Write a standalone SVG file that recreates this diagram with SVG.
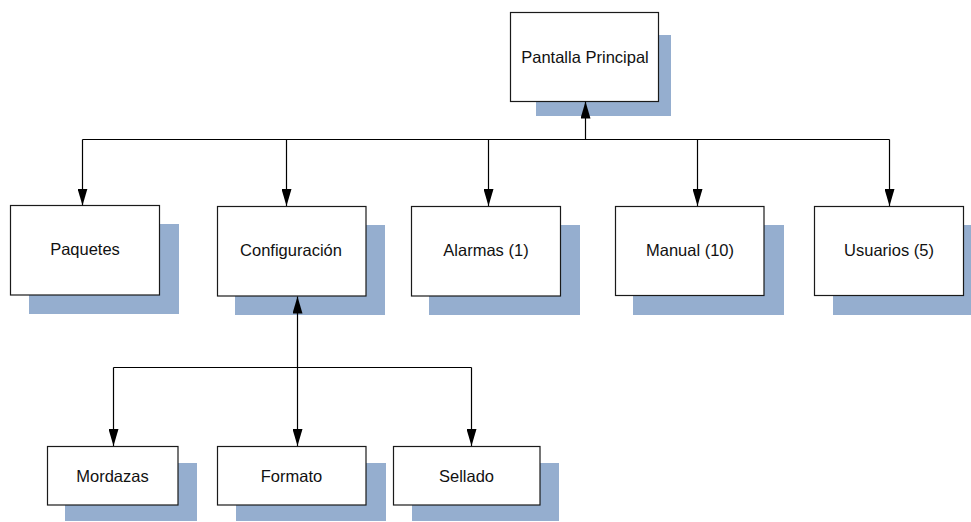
<svg xmlns="http://www.w3.org/2000/svg" width="971" height="522" viewBox="0 0 971 522">
  <defs>
    <style>
      .shadow { fill: #95aecf; stroke: none; }
      .box { fill: #ffffff; stroke: #1a1a1a; stroke-width: 1.2; }
      .label { font-family: "Liberation Sans", Arial, sans-serif; font-size: 16.5px; fill: #111111; text-anchor: middle; }
      .wire { fill: none; stroke: #000000; stroke-width: 1.2; }
    </style>
    <marker id="arrow" viewBox="0 0 17 10" refX="17" refY="5" markerWidth="17" markerHeight="10" markerUnits="userSpaceOnUse" orient="auto">
      <path d="M0,0 L17,5 L0,10 Z" fill="#000000"/>
    </marker>
  </defs>

  <rect width="971" height="522" fill="#ffffff"/>

  <!-- top level -->
  <g id="pantalla-principal">
    <rect class="shadow" x="536" y="35" width="135" height="81"/>
    <rect class="box" x="510.5" y="12.5" width="148" height="89"/>
    <text class="label" x="585" y="62.5">Pantalla Principal</text>
  </g>

  <!-- second level -->
  <g id="paquetes">
    <rect class="shadow" x="29" y="224" width="150" height="90"/>
    <rect class="box" x="10.5" y="205.5" width="149" height="89.5"/>
    <text class="label" x="85" y="255">Paquetes</text>
  </g>
  <g id="configuracion">
    <rect class="shadow" x="235" y="225" width="150" height="90"/>
    <rect class="box" x="217.5" y="206.5" width="148.5" height="89.5"/>
    <text class="label" x="291" y="256">Configuración</text>
  </g>
  <g id="alarmas">
    <rect class="shadow" x="429" y="225" width="151" height="90"/>
    <rect class="box" x="411.5" y="206.5" width="149" height="89.5"/>
    <text class="label" x="486" y="256">Alarmas (1)</text>
  </g>
  <g id="manual">
    <rect class="shadow" x="633" y="225" width="151" height="90"/>
    <rect class="box" x="615.5" y="206.5" width="148.5" height="89"/>
    <text class="label" x="690" y="256">Manual (10)</text>
  </g>
  <g id="usuarios">
    <rect class="shadow" x="833" y="225" width="150" height="90"/>
    <rect class="box" x="814.5" y="206.5" width="149" height="89"/>
    <text class="label" x="889" y="256">Usuarios (5)</text>
  </g>

  <!-- third level -->
  <g id="mordazas">
    <rect class="shadow" x="65" y="463" width="132" height="58"/>
    <rect class="box" x="47.5" y="446.5" width="130.5" height="58.5"/>
    <text class="label" x="112.5" y="481.5">Mordazas</text>
  </g>
  <g id="formato">
    <rect class="shadow" x="236" y="463" width="150" height="58"/>
    <rect class="box" x="217.5" y="446.5" width="148.5" height="58.5"/>
    <text class="label" x="291.5" y="481.5">Formato</text>
  </g>
  <g id="sellado">
    <rect class="shadow" x="412" y="463" width="147" height="58"/>
    <rect class="box" x="393.5" y="446.5" width="146.5" height="58.5"/>
    <text class="label" x="466.5" y="481.5">Sellado</text>
  </g>

  <!-- connectors, drawn above the drop shadows -->
  <g id="connectors">
    <path class="wire" d="M585.5,139.5 V101.5" marker-end="url(#arrow)"/>
    <path class="wire" d="M82.5,139.5 H889.5"/>
    <path class="wire" d="M82.5,139.5 V205.5" marker-end="url(#arrow)"/>
    <path class="wire" d="M286.5,139.5 V206" marker-end="url(#arrow)"/>
    <path class="wire" d="M488.5,139.5 V206" marker-end="url(#arrow)"/>
    <path class="wire" d="M697.5,139.5 V206" marker-end="url(#arrow)"/>
    <path class="wire" d="M889.5,139.5 V206" marker-end="url(#arrow)"/>
    <path class="wire" d="M297.5,367.5 V296.5" marker-end="url(#arrow)"/>
    <path class="wire" d="M297.5,367.5 V446" marker-end="url(#arrow)"/>
    <path class="wire" d="M113.5,367.5 H471.5"/>
    <path class="wire" d="M113.5,367.5 V446" marker-end="url(#arrow)"/>
    <path class="wire" d="M471.5,367.5 V446" marker-end="url(#arrow)"/>
  </g>
</svg>
